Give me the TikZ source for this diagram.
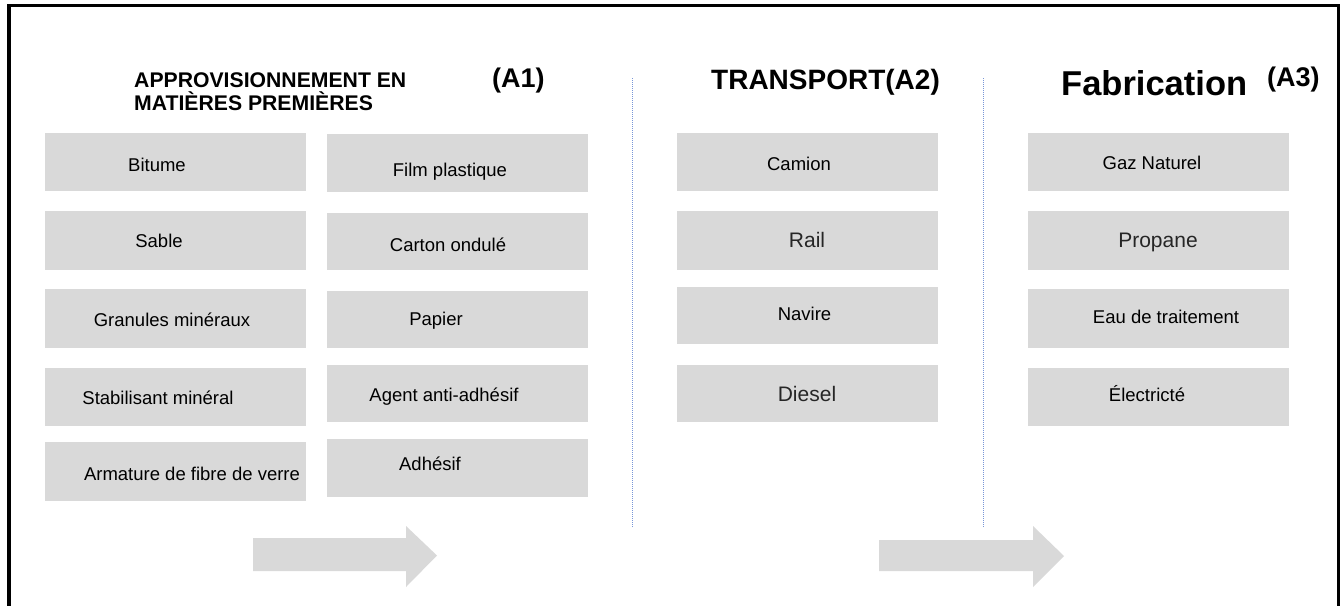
\documentclass[tikz,border=0pt]{standalone}
\usepackage{fontspec}
\setmainfont{Liberation Sans}
\definecolor{grisboite}{RGB}{217,217,217}
\definecolor{bleupoint}{RGB}{120,150,215}

\begin{document}
\begin{tikzpicture}[x=1pt,y=-1pt,
	boite/.style={fill=grisboite, draw=none, inner sep=0pt, minimum width=261pt},
	etiq/.style={anchor=base, inner sep=0pt, font=\fontsize{18.5}{22}\selectfont},
	etiqgrande/.style={etiq, text=black!85, font=\fontsize{21}{25}\selectfont},
	titre/.style={anchor=base west, inner sep=0pt, font=\bfseries\fontsize{21.2}{23}\selectfont},
	separation/.style={bleupoint, line width=0.8pt, dash pattern=on 1pt off 1pt},
	fleche/.style={fill=grisboite}]
	\useasboundingbox (0,0) rectangle (1341,605);
	
	%cadre
	\draw[line width=3.5pt] (9,620) -- (9,5.5) -- (1338.5,5.5) -- (1338.5,620);
	
	%titres
	\node[titre] (titreA1) at (134,87) {APPROVISIONNEMENT EN};
	\node[titre] (titreA1b) at (134,110) {MATIÈRES PREMIÈRES};
	\node[titre, font=\bfseries\fontsize{27}{30}\selectfont] (codeA1) at (492,87) {(A1)};
	\node[titre, font=\bfseries\fontsize{28}{30}\selectfont] (titreA2) at (711,89) {TRANSPORT(A2)};
	\node[titre, font=\bfseries\fontsize{34.5}{38}\selectfont] (titreA3) at (1061,95) {Fabrication};
	\node[titre, font=\bfseries\fontsize{27}{30}\selectfont] (codeA3) at (1267,86) {(A3)};
	
	%separations
	\draw[separation] (632.5,78) -- (632.5,527);
	\draw[separation] (983.5,78) -- (983.5,527);
	
	%A1 colonne gauche
	\node[boite, minimum height=58pt] (bitume) at (175.5,162) {};
	\node[boite, minimum height=59pt] (sable) at (175.5,240.5) {};
	\node[boite, minimum height=59pt] (granules) at (175.5,318.5) {};
	\node[boite, minimum height=58pt] (stabilisant) at (175.5,397) {};
	\node[boite, minimum height=59pt] (armature) at (175.5,471.5) {};
	\node[etiq] (t-bitume) at (157,171.7) {Bitume};
	\node[etiq] (t-sable) at (159,247.7) {Sable};
	\node[etiq] (t-granules) at (172,326.5) {Granules minéraux};
	\node[etiq] (t-stabilisant) at (158,404) {Stabilisant minéral};
	\node[etiq] (t-armature) at (192,480) {Armature de fibre de verre};
	
	%A1 colonne droite
	\node[boite, minimum height=58pt] (film) at (457,163) {};
	\node[boite, minimum height=57pt] (carton) at (457,241.5) {};
	\node[boite, minimum height=57pt] (papier) at (457,319.5) {};
	\node[boite, minimum height=57pt] (agent) at (457,393.5) {};
	\node[boite, minimum height=58pt] (adhesif) at (457,468) {};
	\node[etiq] (t-film) at (450,176) {Film plastique};
	\node[etiq] (t-carton) at (448,251) {Carton ondulé};
	\node[etiq] (t-papier) at (436,325.7) {Papier};
	\node[etiq] (t-agent) at (444,401) {Agent anti-adhésif};
	\node[etiq] (t-adhesif) at (430,470) {Adhésif};
	
	%A2
	\node[boite, minimum height=58pt] (camion) at (807.5,162) {};
	\node[boite, minimum height=59pt] (rail) at (807.5,240.5) {};
	\node[boite, minimum height=57pt] (navire) at (807.5,315.5) {};
	\node[boite, minimum height=57pt] (diesel) at (807.5,393.5) {};
	\node[etiq] (t-camion) at (799,170) {Camion};
	\node[etiqgrande] (t-rail) at (807,247.7) {Rail};
	\node[etiq] (t-navire) at (804.5,320.7) {Navire};
	\node[etiqgrande] (t-diesel) at (807,401.7) {Diesel};
	
	%A3
	\node[boite, minimum height=58pt] (gaz) at (1158,162) {};
	\node[boite, minimum height=59pt] (propane) at (1158,240.5) {};
	\node[boite, minimum height=59pt] (eau) at (1158,318.5) {};
	\node[boite, minimum height=58pt] (electricite) at (1158,397) {};
	\node[etiq] (t-gaz) at (1152,169) {Gaz Naturel};
	\node[etiqgrande] (t-propane) at (1158,247.7) {Propane};
	\node[etiq] (t-eau) at (1166,323.3) {Eau de traitement};
	\node[etiq] (t-electricite) at (1147,401.7) {Électricté};
	
	%fleches
	\fill[fleche] (253,538) -- (406,538) -- (406,526) -- (437,555.5) -- (406,587) -- (406,571) -- (253,571) -- cycle;
	\fill[fleche] (879,540) -- (1033,540) -- (1033,526) -- (1064,556) -- (1033,587) -- (1033,571) -- (879,571) -- cycle;
	
\end{tikzpicture}
\end{document}
